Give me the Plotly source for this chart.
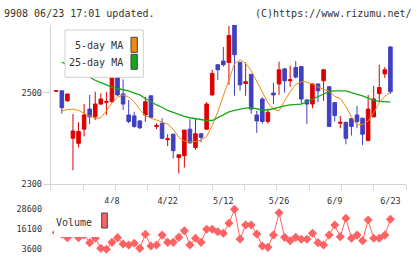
import plotly.graph_objects as go

W, H = 420, 259

# ---------------- data ----------------
tick_idx = [10, 20, 30, 40, 50, 60]
tick_labels = ["4/8", "4/22", "5/12", "5/26", "6/9", "6/23"]

opens = [2503, 2504, 2482, 2400, 2389, 2420, 2464, 2447, 2475, 2479,
         2480, 2539, 2497, 2451, 2449, 2438, 2451, 2493, 2426, 2433,
         2397, 2409, 2358, 2362, 2420, 2380, 2410, 2420, 2495, 2561,
         2569, 2566, 2648, 2566, 2520, 2540, 2451, 2486, 2437, 2499,
         2519, 2552, 2526, 2555, 2557, 2484, 2475, 2519, 2526, 2513,
         2478, 2433, 2435, 2443, 2451, 2444, 2395, 2447, 2498, 2541,
         2600]
highs = [2504, 2504, 2497, 2453, 2435, 2475, 2495, 2502, 2498, 2501,
         2539, 2566, 2529, 2484, 2458, 2440, 2491, 2494, 2433, 2444,
         2409, 2410, 2364, 2418, 2442, 2444, 2411, 2479, 2550, 2562,
         2600, 2646, 2650, 2568, 2566, 2541, 2460, 2490, 2465, 2521,
         2568, 2553, 2559, 2569, 2558, 2485, 2521, 2520, 2552, 2514,
         2479, 2449, 2436, 2444, 2471, 2445, 2495, 2515, 2561, 2556,
         2601]
lows = [2503, 2454, 2480, 2330, 2380, 2404, 2431, 2440, 2473, 2451,
        2478, 2492, 2462, 2433, 2423, 2420, 2436, 2446, 2420, 2398,
        2383, 2356, 2323, 2336, 2389, 2375, 2391, 2418, 2493, 2528,
        2557, 2517, 2493, 2504, 2493, 2454, 2412, 2432, 2432, 2475,
        2495, 2500, 2513, 2531, 2475, 2431, 2466, 2479, 2482, 2426,
        2437, 2422, 2387, 2406, 2422, 2385, 2394, 2446, 2479, 2532,
        2497]
closes = [2504, 2467, 2497, 2416, 2415, 2451, 2447, 2475, 2486, 2480,
          2539, 2495, 2475, 2437, 2426, 2423, 2480, 2446, 2428, 2400,
          2399, 2373, 2364, 2418, 2390, 2410, 2402, 2475, 2542, 2550,
          2561, 2625, 2583, 2517, 2524, 2464, 2438, 2437, 2457, 2495,
          2550, 2526, 2528, 2534, 2486, 2475, 2519, 2504, 2550, 2426,
          2450, 2435, 2400, 2426, 2437, 2409, 2464, 2486, 2511, 2550,
          2502]
ma5 = [None, 2460, 2463, 2464, 2461, 2455, 2449, 2443, 2445, 2460,
       2478, 2490, 2495, 2490, 2480, 2463, 2450, 2444, 2440, 2436,
       2431, 2420, 2402, 2394, 2392, 2393, 2396, 2404, 2428, 2458,
       2494, 2532, 2563, 2572, 2564, 2548, 2524, 2502, 2478, 2464,
       2460, 2482, 2502, 2518, 2524, 2523, 2519, 2512, 2508, 2503,
       2492, 2487, 2470, 2447, 2430, 2430, 2438, 2456, 2478, 2492,
       2501]
ma25 = [None, 2567, 2560, 2553, 2546, 2540, 2534, 2527, 2522, 2517,
        2512, 2509, 2507, 2504, 2499, 2495, 2487, 2480, 2473, 2468,
        2461, 2457, 2452, 2448, 2445, 2443, 2440, 2439, 2439, 2445,
        2451, 2458, 2461, 2464, 2466, 2467, 2465, 2462, 2462, 2465,
        2469, 2471, 2473, 2474, 2475, 2480, 2485, 2491, 2497, 2502,
        2504, 2504, 2504, 2500, 2497, 2493, 2488, 2483, 2481, 2480,
        2479]
volume = [14000, 13000, 10800, 13500, 10800, 12500, 7700, 10400, 4200, 3600,
          7900, 10800, 6900, 6300, 7300, 4200, 12900, 5600, 6300, 12400,
          7900, 7900, 11000, 15100, 6300, 10400, 7900, 16000, 16000, 14500,
          13500, 19700, 28400, 10000, 18600, 18600, 13100, 5600, 4800, 12400,
          26200, 11000, 8900, 11000, 9800, 9800, 13500, 7700, 6300, 12400,
          18600, 11400, 22800, 10400, 12400, 8900, 21700, 10400, 10400, 12400,
          22200]
price_ticks = [2300, 2500]
vol_ticks = [3600, 16100, 28600]
vol_tick_labels = ["3600", "16100", "28600"]

days = list(range(len(closes)))

RED = "#dd0000"
BLUE = "#4040c0"
ORANGE = "#f08a10"
GREEN = "#16a816"
VOLC = "#ff6262"
FONT = "DejaVu Sans Mono"
TXT = "#333333"
GRID = "#d4d4d4"


def px(x):
    return x / W


def py(y):
    return 1 - y / H


fig = go.Figure()
fig.add_trace(go.Candlestick(
    x=days, open=opens, high=highs, low=lows, close=closes,
    increasing=dict(line=dict(color=RED, width=1), fillcolor=RED),
    decreasing=dict(line=dict(color=BLUE, width=1), fillcolor=BLUE),
    whiskerwidth=0, showlegend=False, xaxis="x", yaxis="y"))
fig.add_trace(go.Scatter(x=days, y=ma5, mode="lines",
                         line=dict(color=ORANGE, width=1), showlegend=False,
                         xaxis="x", yaxis="y"))
fig.add_trace(go.Scatter(x=days, y=ma25, mode="lines",
                         line=dict(color=GREEN, width=1.3), showlegend=False,
                         xaxis="x", yaxis="y"))
fig.add_trace(go.Scatter(x=days, y=volume, mode="lines+markers",
                         line=dict(color=VOLC, width=1),
                         marker=dict(symbol="diamond", size=7, color=VOLC),
                         showlegend=False, xaxis="x2", yaxis="y2"))

xr = [-1.0, 62.8]
grid_vals = [xr[0] + k * (xr[1] - xr[0]) / 11 for k in range(12)]
xdom = [px(50.7), px(406)]

fig.update_layout(
    template="none",
    width=W, height=H,
    margin=dict(l=0, r=0, t=0, b=0, pad=0, autoexpand=False),
    paper_bgcolor="white", plot_bgcolor="white",
    boxgap=0.08, showlegend=False,
    xaxis=dict(domain=xdom, range=xr, anchor="y", automargin=False,
               tickmode="array", tickvals=tick_idx, ticktext=tick_labels,
               ticks="outside", ticklen=9, tickcolor="rgba(0,0,0,0)",
               showline=True, linecolor=GRID, linewidth=1,
               showgrid=False, zeroline=False,
               rangeslider=dict(visible=False),
               tickfont=dict(family=FONT, size=8.5, color=TXT),
               minor=dict(tickmode="array", tickvals=grid_vals, ticks="outside",
                          ticklen=5, tickcolor=GRID, showgrid=False)),
    yaxis=dict(domain=[py(184), py(25)], range=[2300, 2648], anchor="x",
               automargin=False,
               tickmode="array", tickvals=price_ticks,
               ticks="outside", ticklen=6, tickcolor=GRID,
               showline=True, linecolor=GRID, showgrid=False, zeroline=False,
               tickfont=dict(family=FONT, size=8.5, color=TXT)),
    xaxis2=dict(domain=xdom, range=xr, anchor="y2", visible=False,
                automargin=False, showgrid=False, zeroline=False),
    yaxis2=dict(domain=[py(256), py(200)], range=[-546, 34107], anchor="x2",
                automargin=False,
                tickmode="array", tickvals=vol_ticks, ticktext=vol_tick_labels,
                ticks="outside", ticklen=6, tickcolor="rgba(0,0,0,0)",
                showline=False, showgrid=False, zeroline=False,
                tickfont=dict(family=FONT, size=8.5, color=TXT)),
)

shapes = [
    dict(type="rect", xref="paper", yref="paper", x0=px(65), x1=px(143.3),
         y0=py(77.3), y1=py(30), fillcolor="white",
         line=dict(color="#d0d0d0", width=1), layer="above"),
    dict(type="rect", xref="paper", yref="paper", x0=px(131), x1=px(137.3),
         y0=py(52.3), y1=py(37.3), fillcolor=ORANGE,
         line=dict(color="#444444", width=1), layer="above"),
    dict(type="rect", xref="paper", yref="paper", x0=px(131), x1=px(137.3),
         y0=py(69.3), y1=py(54.3), fillcolor=GREEN,
         line=dict(color="#444444", width=1), layer="above"),
    dict(type="rect", xref="paper", yref="paper", x0=px(54), x1=px(112),
         y0=py(237), y1=py(203), fillcolor="white",
         line=dict(width=0), layer="above"),
    dict(type="rect", xref="paper", yref="paper", x0=px(101.7), x1=px(107.3),
         y0=py(228), y1=py(213), fillcolor=VOLC,
         line=dict(color="#444444", width=1), layer="above"),
]
fig.update_layout(shapes=shapes)

ann = [
    dict(text="9908 06/23 17:01 updated.", x=px(2), y=py(13), xanchor="left"),
    dict(text="(C)https://www.rizumu.net/", x=px(414), y=py(13), xanchor="right"),
    dict(text="5-day MA", x=px(125), y=py(45.5), xanchor="right"),
    dict(text="25-day MA", x=px(125), y=py(63), xanchor="right"),
    dict(text="Volume", x=px(94), y=py(222), xanchor="right"),
]
for a in ann:
    a.update(xref="paper", yref="paper", yanchor="middle", showarrow=False,
             font=dict(family=FONT, size=10, color=TXT))
fig.update_layout(annotations=ann)

fig.write_html("out.html")
